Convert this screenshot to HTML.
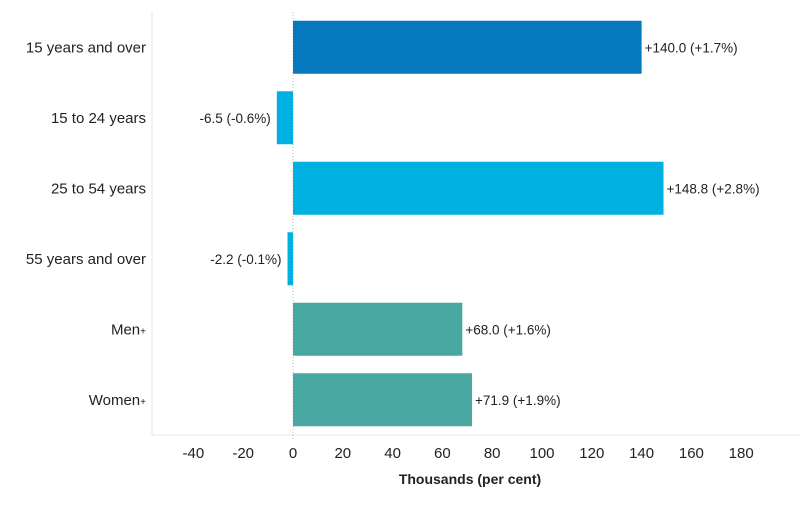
<!DOCTYPE html>
<html><head><meta charset="utf-8">
<style>
body{margin:0;background:#fff;font-family:"Liberation Sans",sans-serif;}
svg text{font-family:"Liberation Sans",sans-serif;fill:#222;}
</style></head>
<body>
<svg width="800" height="500">
<g id="g"></g>
</svg>
<script>
const categories=["15 years and over","15 to 24 years","25 to 54 years","55 years and over","Men+","Women+"];
const values=[140.0,-6.5,148.8,-2.2,68.0,71.9];
const pcts=["+1.7%","-0.6%","+2.8%","-0.1%","+1.6%","+1.9%"];
const valueLabels=["+140.0","-6.5","+148.8","-2.2","+68.0","+71.9"];
const colors=["#0678be","#00b0e0","#00b0e0","#00b0e0","#49a7a1","#49a7a1"];
const ticks=[-40,-20,0,20,40,60,80,100,120,140,160,180];
const NS="http://www.w3.org/2000/svg";
const g=document.getElementById('g');
const xs=v=>293+v*2.49;
const plotTop=12,plotBottom=435,band=(plotBottom-plotTop)/categories.length,bh=53;
const ys=i=>plotTop+band*i+band/2;
function mk(t,a){const e=document.createElementNS(NS,t);for(const k in a)e.setAttribute(k,a[k]);g.appendChild(e);return e;}
let el;
el=mk('line',{x1:152,y1:plotTop,x2:152,y2:plotBottom,stroke:'#e6e6e6'});


el=mk('line',{x1:152,y1:plotBottom,x2:800,y2:plotBottom,stroke:'#e6e6e6'});


el=mk('line',{x1:xs(0),y1:plotTop,x2:xs(0),y2:plotBottom+6,stroke:'#bbb','stroke-dasharray':'1,2'});


ticks.forEach(t=>{
 const tx=mk('text',{x:xs(t),y:458,'text-anchor':'middle','font-size':15});
 tx.textContent=t;
 
 
});
const at=mk('text',{x:470,y:484,'text-anchor':'middle','font-size':14,'font-weight':'bold'});
at.textContent="Thousands (per cent)";


categories.forEach((c,i)=>{
 const v=values[i],cy=ys(i);
 const r=mk('rect',{x:Math.min(xs(0),xs(v)),y:cy-bh/2,width:Math.abs(xs(v)-xs(0)),height:bh,fill:colors[i]});
 
 
 const lab=mk('text',{x:146,y:cy+5,'text-anchor':'end','font-size':15});
 if(c.endsWith('+')){lab.textContent=c.slice(0,-1);const s=document.createElementNS(NS,'tspan');s.setAttribute('font-size',10);s.textContent='+';lab.appendChild(s);}
 else lab.textContent=c;
 
 
 const vl=mk('text',{x:v>=0?xs(v)+3:xs(v)-6,y:cy+5,'text-anchor':v>=0?'start':'end','font-size':13.5});
 vl.textContent=valueLabels[i]+" ("+pcts[i]+")";
 
 
});
</script>
</body></html>
